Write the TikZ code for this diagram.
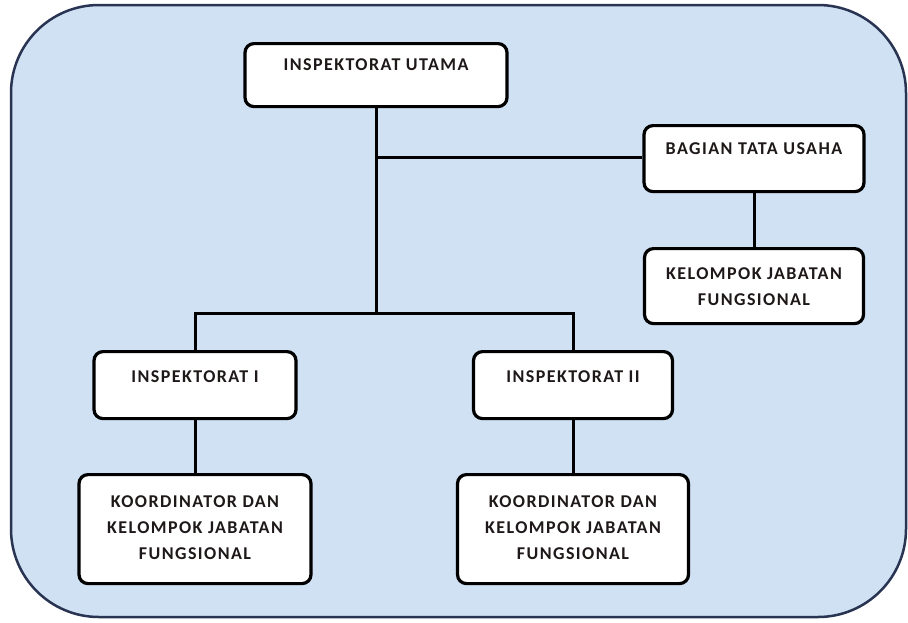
\documentclass[tikz,border=0pt]{standalone}
\usepackage{fontspec}
\setmainfont{Carlito}
\definecolor{bgblue}{RGB}{208,225,243}
\definecolor{frame}{RGB}{40,52,82}
\definecolor{txt}{RGB}{30,24,24}
\newcommand\orgtext[4]{\begin{minipage}[t][#1][t]{#2}\centering\vspace*{#3}#4\end{minipage}}
\begin{document}
\begin{tikzpicture}[x=1pt,y=-1pt,
  orgbox/.style={draw=black,line width=3.2pt,fill=white,rounded corners=9pt,
    inner sep=0pt,anchor=north,text=txt,
    font={\fontsize{18}{26}\selectfont\bfseries\addfontfeature{LetterSpace=8}}},
  link/.style={draw=black,line width=3pt}]
\useasboundingbox (0,0) rectangle (908,622);
\draw[frame,line width=2.5pt,fill=bgblue,rounded corners=88pt] (11,5) rectangle (906,617);

\node[orgbox] (utama) at (376,42) {\orgtext{63pt}{262pt}{15pt}{INSPEKTORAT UTAMA}};
\node[orgbox] (bagian) at (754,124) {\orgtext{66pt}{220pt}{17pt}{BAGIAN TATA USAHA}};
\node[orgbox] (kel) at (754,247) {\orgtext{75pt}{219pt}{19pt}{KELOMPOK JABATAN\\FUNGSIONAL}};
\node[orgbox] (insp1) at (195,350) {\orgtext{67pt}{202pt}{19pt}{INSPEKTORAT I}};
\node[orgbox] (koor1) at (195,473) {\orgtext{109pt}{232pt}{21pt}{KOORDINATOR DAN\\KELOMPOK JABATAN\\FUNGSIONAL}};
\node[orgbox] (insp2) at (573,350) {\orgtext{67pt}{199pt}{19pt}{INSPEKTORAT II}};
\node[orgbox] (koor2) at (573,473) {\orgtext{109pt}{231pt}{21pt}{KOORDINATOR DAN\\KELOMPOK JABATAN\\FUNGSIONAL}};

\coordinate (bar) at (376,313);
\coordinate (tee) at (376,157);
\path[link] (utama.south) -- (bar);
\path[link] (tee) -- (tee -| bagian.west);
\path[link] (insp1.north) -- (insp1.north |- bar) -- (insp2.north |- bar) -- (insp2.north);
\path[link] (bagian.south) -- (kel.north);
\path[link] (insp1.south) -- (koor1.north);
\path[link] (insp2.south) -- (koor2.north);
\end{tikzpicture}
\end{document}
